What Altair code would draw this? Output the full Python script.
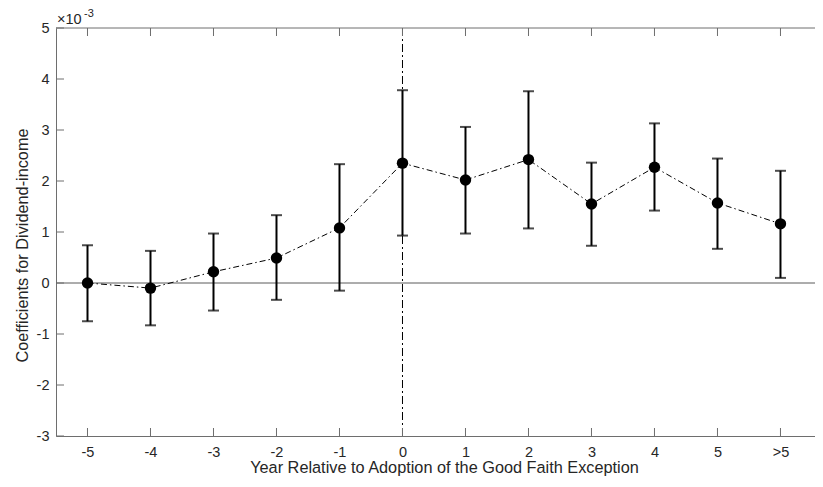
import altair as alt
import pandas as pd

# ---- data (coefficients in raw units; axis shows ×10^-3) ----
categories = ["-5", "-4", "-3", "-2", "-1", "0", "1", "2", "3", "4", "5", ">5"]
coef = [0.00000, -0.00010, 0.00022, 0.00049, 0.00108, 0.00235,
        0.00202, 0.00242, 0.00155, 0.00227, 0.00157, 0.00116]
upper = [0.00074, 0.00063, 0.00097, 0.00133, 0.00233, 0.00378,
         0.00306, 0.00376, 0.00236, 0.00313, 0.00244, 0.00220]
lower = [-0.00075, -0.00083, -0.00054, -0.00033, -0.00015, 0.00093,
         0.00097, 0.00107, 0.00073, 0.00142, 0.00067, 0.00010]
y_ticks = [-0.003, -0.002, -0.001, 0.0, 0.001, 0.002, 0.003, 0.004, 0.005]
x_title = "Year Relative to Adoption of the Good Faith Exception"
y_title = "Coefficients for Dividend-income"
exp_base = "×10"
exp_power = "-3"

W, H = 759, 408
FONT = "Liberation Sans"
AX = "#262626"
TICK_FS = 14.5
TITLE_FS = 16.3

pos = [i - 5 for i in range(len(categories))]
df = pd.DataFrame({"pos": pos, "cat": categories, "coef": coef,
                   "upper": upper, "lower": lower})
xt = pd.DataFrame({"pos": pos})
yt = pd.DataFrame({"v": y_ticks})

label_expr = "[" + ",".join("'%s'" % c for c in categories) + "][datum.value + 5]"

xscale = alt.Scale(domain=[-5.5, 6.548], nice=False, zero=False)
yscale = alt.Scale(domain=[-0.003, 0.005], nice=False, zero=False)

xaxis = alt.Axis(values=pos, labelExpr=label_expr, tickSize=0, labelPadding=9,
                 grid=False, domainColor="#6e6e6e", domainWidth=1,
                 labelFont=FONT, labelFontSize=TICK_FS, labelColor=AX,
                 title=x_title, titleFont=FONT, titleFontSize=TITLE_FS,
                 titleFontWeight="normal", titleColor=AX, titlePadding=1,
                 titleX=388)
yaxis = alt.Axis(values=y_ticks, labelExpr="toString(round(datum.value*1000))",
                 tickSize=0, labelPadding=7, grid=False,
                 domainColor="#6e6e6e", domainWidth=1,
                 labelFont=FONT, labelFontSize=TICK_FS, labelColor=AX,
                 title=y_title, titleFont=FONT, titleFontSize=TITLE_FS,
                 titleFontWeight="normal", titleColor=AX, titlePadding=6,
                 titleY=217)

base = alt.Chart(df)

zero_line = alt.Chart(pd.DataFrame({"v": [0.0]})).mark_rule(
    color="#5a5a5a", strokeWidth=1).encode(
    y=alt.Y("v:Q", scale=yscale, axis=yaxis),
    x=alt.value(0), x2=alt.value(W))

vline = alt.Chart(pd.DataFrame({"p": [0]})).mark_rule(
    color="black", strokeWidth=1, strokeDash=[8, 3, 2, 3]).encode(
    x=alt.X("p:Q", scale=xscale, axis=xaxis),
    y=alt.value(0), y2=alt.value(H))

top_line = alt.Chart(pd.DataFrame({"p": [0]})).mark_rule(
    color="#6e6e6e", strokeWidth=1).encode(
    y=alt.value(0), x=alt.value(0), x2=alt.value(W))

xticks_b = alt.Chart(xt).mark_rule(color="#6e6e6e", strokeWidth=1).encode(
    x=alt.X("pos:Q", scale=xscale), y=alt.value(H), y2=alt.value(H - 8))
xticks_t = alt.Chart(xt).mark_rule(color="#6e6e6e", strokeWidth=1).encode(
    x=alt.X("pos:Q", scale=xscale), y=alt.value(0), y2=alt.value(8))
yticks_l = alt.Chart(yt).mark_rule(color="#6e6e6e", strokeWidth=1).encode(
    y=alt.Y("v:Q", scale=yscale), x=alt.value(0), x2=alt.value(8))

line = base.mark_line(color="black", strokeWidth=1, strokeDash=[6, 3, 1.5, 3]).encode(
    x=alt.X("pos:Q", scale=xscale), y=alt.Y("coef:Q", scale=yscale))

err = base.mark_rule(color="black", strokeWidth=2).encode(
    x=alt.X("pos:Q", scale=xscale), y=alt.Y("lower:Q", scale=yscale), y2="upper:Q")

cap_u = base.mark_tick(color="black", thickness=2, size=11, orient="horizontal").encode(
    x=alt.X("pos:Q", scale=xscale), y=alt.Y("upper:Q", scale=yscale))
cap_l = base.mark_tick(color="black", thickness=2, size=11, orient="horizontal").encode(
    x=alt.X("pos:Q", scale=xscale), y=alt.Y("lower:Q", scale=yscale))

pts = base.mark_circle(color="black", size=130, opacity=1).encode(
    x=alt.X("pos:Q", scale=xscale), y=alt.Y("coef:Q", scale=yscale))

exp1 = alt.Chart(pd.DataFrame({"t": [exp_base]})).mark_text(
    font=FONT, fontSize=14.5, color=AX, align="left", baseline="alphabetic").encode(
    text="t:N", x=alt.value(1), y=alt.value(-4))
exp2 = alt.Chart(pd.DataFrame({"t": [exp_power]})).mark_text(
    font=FONT, fontSize=11, color=AX, align="left", baseline="alphabetic").encode(
    text="t:N", x=alt.value(28), y=alt.value(-11))

chart = alt.layer(zero_line, vline, top_line, xticks_b, xticks_t, yticks_l,
                  line, err, cap_u, cap_l, pts, exp1, exp2).properties(
    width=W, height=H,
    autosize=alt.AutoSizeParams(type="none"),
    padding={"left": 48, "top": 20, "right": 0, "bottom": 43},
    background="white",
).configure_view(stroke=None)

chart.save("out.html", embed_options={"renderer": "svg", "actions": False})
